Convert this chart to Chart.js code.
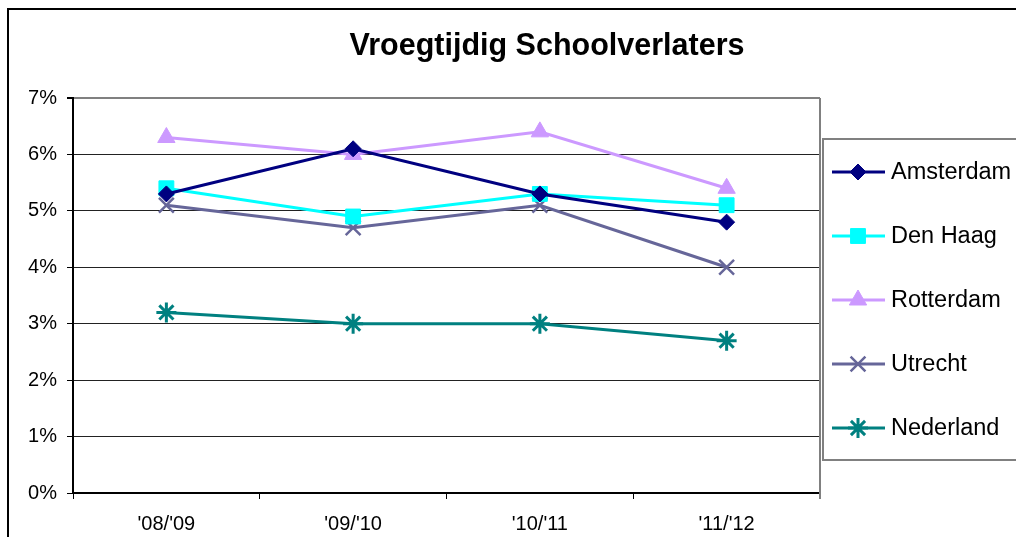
<!DOCTYPE html>
<html>
<head>
<meta charset="utf-8">
<script src="https://cdn.jsdelivr.net/npm/chart.js@4/dist/chart.umd.min.js"></script>
<style>
  html, body { margin: 0; padding: 0; background: #fff; }
  #wrap { width: 1016px; height: 537px; }
</style>
</head>
<body>
<div id="wrap"><canvas id="chart_school"></canvas></div>
<script>
const years = ["'08/'09", "'09/'10", "'10/'11", "'11/'12"];
const amsterdam = [5.3, 6.1, 5.3, 4.8];
const denHaag = [5.4, 4.9, 5.3, 5.1];
const rotterdam = [6.3, 6.0, 6.4, 5.4];
const utrecht = [5.1, 4.7, 5.1, 4.0];
const nederland = [3.2, 3.0, 3.0, 2.7];
const titleText = 'Vroegtijdig Schoolverlaters';

const FONT = "'Liberation Sans', Arial, sans-serif";

function serie(label, data, color, style, r, bw) {
  return {
    label: label,
    data: data,
    borderColor: color,
    backgroundColor: color,
    pointBackgroundColor: color,
    pointBorderColor: color,
    pointStyle: style,
    pointRadius: r,
    pointHoverRadius: r,
    pointBorderWidth: bw,
    borderWidth: 3,
    tension: 0
  };
}

// title, frame, plot border and legend box (Excel look)
const excelDeco = {
  id: 'excelDeco',
  afterDraw(chart) {
    const ctx = chart.ctx;
    const ca = chart.chartArea;
    ctx.save();
    // outer frame
    ctx.strokeStyle = '#000';
    ctx.lineWidth = 2;
    ctx.beginPath();
    ctx.moveTo(1020, 9); ctx.lineTo(8, 9); ctx.lineTo(8, 540);
    ctx.stroke();
    // right border of plot area
    ctx.strokeStyle = '#808080';
    ctx.beginPath();
    ctx.moveTo(ca.right, ca.top); ctx.lineTo(ca.right, ca.bottom + 6);
    ctx.stroke();
    // title
    ctx.fillStyle = '#000';
    ctx.font = 'bold 30.5px ' + FONT;
    ctx.textAlign = 'center';
    ctx.textBaseline = 'middle';
    ctx.fillText(titleText, 547, 47);
    // legend box
    ctx.strokeStyle = '#808080';
    ctx.lineWidth = 2;
    ctx.strokeRect(823, 139, 200, 321);
    ctx.font = '23.5px ' + FONT;
    ctx.textAlign = 'left';
    chart.data.datasets.forEach((ds, i) => {
      const y = 172 + i * 64;
      ctx.strokeStyle = ds.borderColor;
      ctx.lineWidth = 3;
      ctx.beginPath();
      ctx.moveTo(832, y); ctx.lineTo(885, y);
      ctx.stroke();
      ctx.fillStyle = ds.backgroundColor;
      ctx.lineWidth = ds.pointBorderWidth;
      Chart.helpers.drawPoint(ctx, { pointStyle: ds.pointStyle, radius: ds.pointRadius, rotation: 0, borderWidth: ds.pointBorderWidth }, 858, y);
      ctx.fillStyle = '#000';
      ctx.fillText(ds.label, 891, y + 1);
    });
    ctx.restore();
  }
};

const schoolChart = new Chart(document.getElementById('chart_school'), {
  type: 'line',
  data: {
    labels: years,
    datasets: [
      serie('Amsterdam', amsterdam, '#000080', 'rectRot', 8, 1),
      serie('Den Haag', denHaag, '#00FFFF', 'rect', 10.5, 1),
      serie('Rotterdam', rotterdam, '#CC99FF', 'triangle', 10, 1),
      serie('Utrecht', utrecht, '#666699', 'crossRot', 10.5, 2.5),
      serie('Nederland', nederland, '#008080', 'star', 10, 3)
    ]
  },
  plugins: [excelDeco],
  options: {
    responsive: true,
    maintainAspectRatio: false,
    animation: false,
    layout: {
      padding: { top: 98, right: 196, left: 0, bottom: 0 }
    },
    plugins: {
      legend: { display: false },
      title: { display: false },
      tooltip: { enabled: false }
    },
    scales: {
      x: {
        offset: true,
        afterFit(scale) { scale.height = 44; },
        grid: {
          offset: true,
          drawOnChartArea: false,
          drawTicks: true,
          tickLength: 6,
          tickColor: '#000'
        },
        border: { color: '#000', width: 2 },
        ticks: {
          color: '#000',
          padding: 13,
          maxRotation: 0,
          font: { family: FONT, size: 20 }
        }
      },
      y: {
        min: 0,
        max: 7,
        afterFit(scale) { scale.width = 73; },
        grid: {
          color: (c) => c.tick && c.tick.value === 7 ? '#808080' : '#222',
          lineWidth: (c) => c.tick && c.tick.value === 7 ? 2 : 1,
          drawTicks: true,
          tickLength: 6,
          tickColor: '#000'
        },
        border: { color: '#000', width: 2 },
        ticks: {
          stepSize: 1,
          color: '#000',
          padding: 10,
          font: { family: FONT, size: 20 },
          callback: (v) => v + '%'
        }
      }
    }
  }
});
</script>
</body>
</html>
